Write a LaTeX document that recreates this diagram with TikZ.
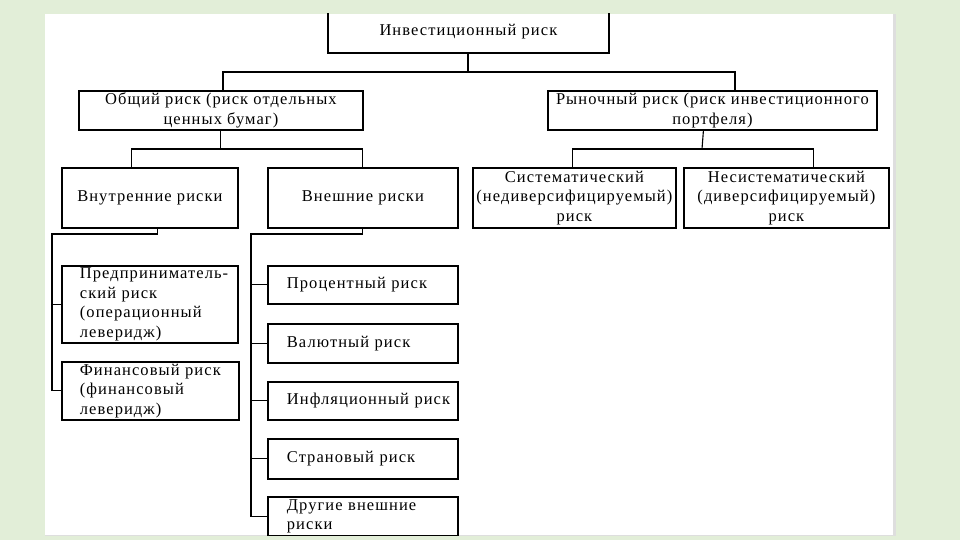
\documentclass[tikz,border=0pt]{standalone}
\usepackage{fontspec}
\setmainfont[LetterSpace=6.5]{Liberation Serif}
\usepackage{tikz}
\usetikzlibrary{positioning}
\definecolor{slidegreen}{RGB}{226,238,216}
\definecolor{panelshade}{RGB}{222,222,222}

\begin{document}
\begin{tikzpicture}[x=1pt, y=-1pt,
        box/.style={rectangle, draw=black, line width=1.8pt, inner sep=0pt,
                    align=center, anchor=north west,
                    font=\fontsize{16.5}{19.5}\selectfont},
        leftbox/.style={box, align=left, inner xsep=18pt},
        link/.style={line width=1.1pt},
        mainlink/.style={line width=2pt}
      ]
      % slide background and white panel
      \useasboundingbox (0,0) rectangle (960,540);
      \fill[slidegreen] (0,0) rectangle (960,540);
      \fill[panelshade] (45,14) rectangle (896,536);
      \fill[white] (45,14) rectangle (893,535);

      \begin{scope}
      \clip (45,14) rectangle (893,535);
      \node[box, minimum width=281pt, minimum height=42pt] (inv) at (327,10) {Инвестиционный риск};

      \node[box, minimum width=284pt, minimum height=39pt] (obsh) at (78,90) {Общий риск (риск отдельных\\ценных бумаг)};
      \node[box, minimum width=329pt, minimum height=39pt] (ryn) at (547,90) {Рыночный риск (риск инвестиционного\\портфеля)};

      \node[box, minimum width=176pt, minimum height=60pt] (vnutr) at (61,167) {Внутренние риски};
      \node[box, minimum width=190pt, minimum height=60pt] (vnesh) at (267,167) {Внешние риски};
      \node[box, minimum width=203pt, minimum height=60pt] (sist) at (472,167) {Систематический\\(недиверсифицируемый)\\риск};
      \node[box, minimum width=205pt, minimum height=60pt] (nesist) at (683,167) {Несистематический\\(диверсифицируемый)\\риск};

      \node[leftbox, text width=140pt, minimum height=77pt] (predpr) at (61,265) {\mbox{Предприниматель-}\\ский риск\\(операционный\\леверидж)};
      \node[leftbox, text width=141pt, minimum height=58pt] (fin) at (61,361) {Финансовый~риск\\(финансовый\\леверидж)};

      \node[leftbox, inner xsep=19pt, text width=152pt, minimum height=38pt] (proc) at (267,265) {Процентный~риск};
      \node[leftbox, inner xsep=19pt, text width=152pt, minimum height=39pt] (val) at (267,323) {Валютный~риск};
      \node[leftbox, inner xsep=19pt, text width=152pt, minimum height=38pt] (infl) at (267,381) {Инфляционный~риск};
      \node[leftbox, inner xsep=19pt, text width=152pt, minimum height=40pt] (stran) at (267,438) {Страновый~риск};
      \node[leftbox, inner xsep=19pt, text width=152pt, minimum height=39pt] (drug) at (267,496) {Другие~внешние\\риски};

      % tree connectors
      \coordinate (j1) at (468,72);
      \coordinate (j2) at (221,149);
      \coordinate (j3) at (702,149);
      \coordinate (spine1) at (52,234);
      \coordinate (spine2) at (251,234);

      \draw[mainlink] (inv) -- (inv.south |- j1);
      \draw[mainlink] ([xshift=2pt]obsh.north) |- (j1) -| ([xshift=23pt]ryn.north);

      \draw[link] (obsh) -- (obsh.south |- j2);
      \draw[link] ([xshift=-18pt]vnutr.north) |- (j2) -| (vnesh.north);
      \draw[link] ([xshift=-9pt]ryn.south) -- (j3);
      \draw[link] ([xshift=-2pt]sist.north) |- (j3) -| ([xshift=27pt]nesist.north);

      \draw[link] ([xshift=8pt]vnutr.south) |- (spine1) |- (fin.west);
      \draw[link] (predpr.west) -- (predpr.west -| spine1);

      \draw[link] (vnesh.south) |- (spine2) |- (drug.west);
      \draw[link] (proc.west) -- (proc.west -| spine2);
      \draw[link] (val.west) -- (val.west -| spine2);
      \draw[link] (infl.west) -- (infl.west -| spine2);
      \draw[link] (stran.west) -- (stran.west -| spine2);
      \end{scope}
    \end{tikzpicture}
\end{document}
